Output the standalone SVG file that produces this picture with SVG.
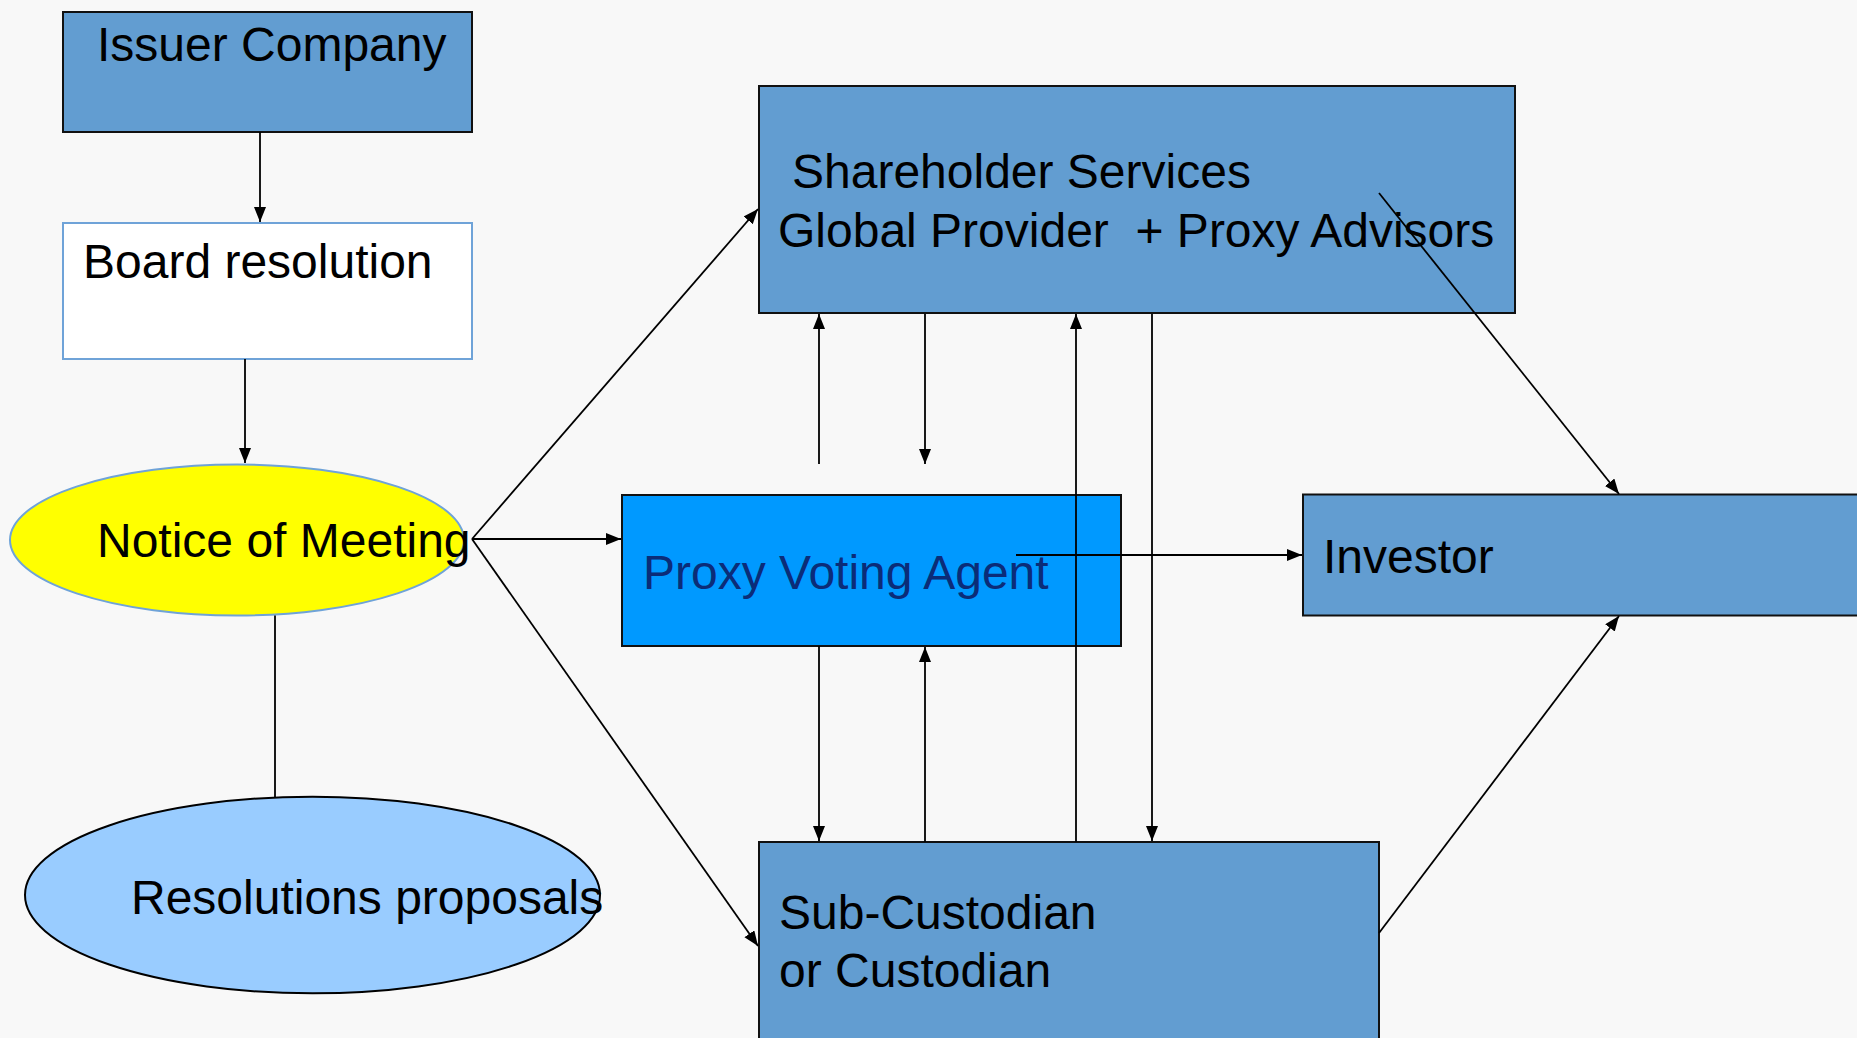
<svg xmlns="http://www.w3.org/2000/svg" width="1857" height="1038" viewBox="0 0 1857 1038">
  <defs>
    <marker id="arrow" markerUnits="userSpaceOnUse" markerWidth="17" markerHeight="13" refX="15" refY="6" orient="auto">
      <path d="M0,0 L15,6 L0,12 z" fill="#000"/>
    </marker>
  </defs>
  <style>
    .lbl { font-family: "Liberation Sans", Arial, sans-serif; font-size: 48px; fill: #000; }
    .box { fill: #629DD1; stroke: #111; stroke-width: 2; }
    .link { fill: none; stroke: #000; stroke-width: 1.8; }
    .arr { marker-end: url(#arrow); }
  </style>

  <!-- page background -->
  <rect x="0" y="0" width="1857" height="1038" fill="#F8F8F8"/>

  <!-- nodes -->
  <g id="issuer-company">
    <rect class="box" x="63" y="12" width="409" height="120"/>
    <text class="lbl" x="97" y="61">Issuer Company</text>
  </g>

  <g id="board-resolution">
    <rect x="63" y="223" width="409" height="136" fill="#FFFFFF" stroke="#6FA3D8" stroke-width="2"/>
    <text class="lbl" x="83" y="278">Board resolution</text>
  </g>

  <g id="notice-of-meeting">
    <ellipse cx="237" cy="540" rx="227" ry="75.5" fill="#FFFF00" stroke="#6FA3D8" stroke-width="2"/>
    <text class="lbl" x="97" y="557">Notice of Meeting</text>
  </g>

  <g id="resolutions-proposals">
    <ellipse cx="312.5" cy="895" rx="287.5" ry="98.3" fill="#99CCFF" stroke="#000" stroke-width="2"/>
    <text class="lbl" x="131" y="914">Resolutions proposals</text>
  </g>

  <g id="shareholder-services">
    <rect class="box" x="759" y="86" width="756" height="227"/>
    <text class="lbl" x="792" y="188">Shareholder Services</text>
    <text class="lbl" x="778" y="247" xml:space="preserve">Global Provider  + Proxy Advisors</text>
  </g>

  <g id="proxy-voting-agent">
    <rect x="622" y="495" width="499" height="151" fill="#0099FF" stroke="#111" stroke-width="2"/>
    <text class="lbl" x="643" y="589" style="fill:#0B2C78">Proxy Voting Agent</text>
  </g>

  <g id="investor">
    <rect class="box" x="1303" y="494.5" width="570" height="121"/>
    <text class="lbl" x="1323" y="573">Investor</text>
  </g>

  <g id="sub-custodian">
    <rect class="box" x="759" y="842" width="620" height="210"/>
    <text class="lbl" x="779" y="929">Sub-Custodian</text>
    <text class="lbl" x="779" y="987">or Custodian</text>
  </g>

  <!-- connectors -->
  <g id="connectors">
    <line class="link arr" x1="260" y1="132" x2="260" y2="222"/>
    <line class="link arr" x1="245" y1="359" x2="245" y2="463"/>
    <line class="link" x1="275" y1="615.5" x2="275" y2="797"/>

    <line class="link arr" x1="472" y1="539" x2="758" y2="209"/>
    <line class="link arr" x1="472" y1="539" x2="621" y2="539"/>
    <line class="link arr" x1="472" y1="539" x2="758" y2="946"/>

    <line class="link arr" x1="819" y1="464" x2="819" y2="314"/>
    <line class="link arr" x1="925" y1="314" x2="925" y2="464"/>
    <line class="link arr" x1="1076" y1="842" x2="1076" y2="314"/>
    <line class="link arr" x1="1152" y1="314" x2="1152" y2="841"/>

    <line class="link arr" x1="819" y1="646" x2="819" y2="841"/>
    <line class="link arr" x1="925" y1="842" x2="925" y2="647"/>

    <line class="link arr" x1="1016" y1="555" x2="1302" y2="555"/>
    <line class="link arr" x1="1379" y1="193" x2="1619" y2="494"/>
    <line class="link arr" x1="1379" y1="933" x2="1619" y2="616"/>
  </g>
</svg>
